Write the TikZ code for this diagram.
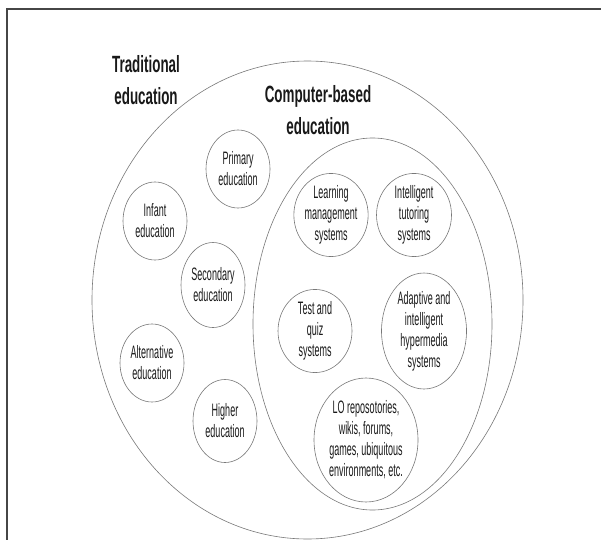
\documentclass[tikz,border=0pt]{standalone}
\usepackage{fontspec}
\setmainfont{Liberation Sans}[FakeStretch=0.5]
\newfontfamily\TitleFont{Liberation Sans}[FakeStretch=0.57]
\usepackage{tikz}
\usetikzlibrary{shapes.geometric}
\usepackage{xcolor}
\definecolor{ColLine}{RGB}{120,120,120}
\definecolor{ColText}{RGB}{25,25,25}
\definecolor{ColFrame}{RGB}{70,70,70}
\tikzstyle{SetEllipse}=[ColLine,line width=0.6pt]
\tikzstyle{SetTitle}=[ColText,align=center,inner sep=0pt,
font=\TitleFont\bfseries\fontsize{23.5}{32}\selectfont]
\tikzstyle{SmallSet}=[ellipse,draw=ColLine,line width=0.6pt,text=ColText,
align=center,inner sep=0pt,font=\fontsize{18}{21}\selectfont]

\begin{document}
\begin{tikzpicture}[x=1pt,y=-1pt]
        \useasboundingbox (0,0) rectangle (601,540);
        % page frame
        \draw[ColFrame,line width=1.6pt] (601,9) -- (7,9) -- (7,540);
        % the two sets
        \draw[SetEllipse] (307.5,300) ellipse [x radius=215.5,y radius=239];
        \draw[SetEllipse] (372.5,324) ellipse [x radius=119.5,y radius=186];
        \node[SetTitle](trad)at(146,80){Traditional\\education};
        \node[SetTitle](cbe)at(318,110){Computer-based\\education};
        % traditional education
        \node[SmallSet,minimum width=64,minimum height=78](prim)at(238,169){Primary\\education};
        \node[SmallSet,minimum width=64,minimum height=78](inf)at(155,221){Infant\\education};
        \node[SmallSet,minimum width=64,minimum height=85](sec)at(213,285){Secondary\\education};
        \node[SmallSet,minimum width=64,minimum height=78](alt)at(152,363){Alternative\\education};
        \node[SmallSet,minimum width=64,minimum height=83](high)at(225,421){Higher\\education};
        % computer-based education
        \node[SmallSet,minimum width=74,minimum height=76](lms)at(331,215){Learning\\management\\systems};
        \node[SmallSet,minimum width=75,minimum height=76](its)at(414,215){Intelligent\\tutoring\\systems};
        \node[SmallSet,minimum width=74,minimum height=78](tqs)at(315,331){Test and\\quiz\\systems};
        \node[SmallSet,minimum width=85,minimum height=116](aihs)at(424,331){Adaptive and\\intelligent\\hypermedia\\systems};
        \node[SmallSet,minimum width=102,minimum height=124](lor)at(366,440){LO reposotories,\\wikis, forums,\\games, ubiquitous\\environments, etc.};
    \end{tikzpicture}
\end{document}
